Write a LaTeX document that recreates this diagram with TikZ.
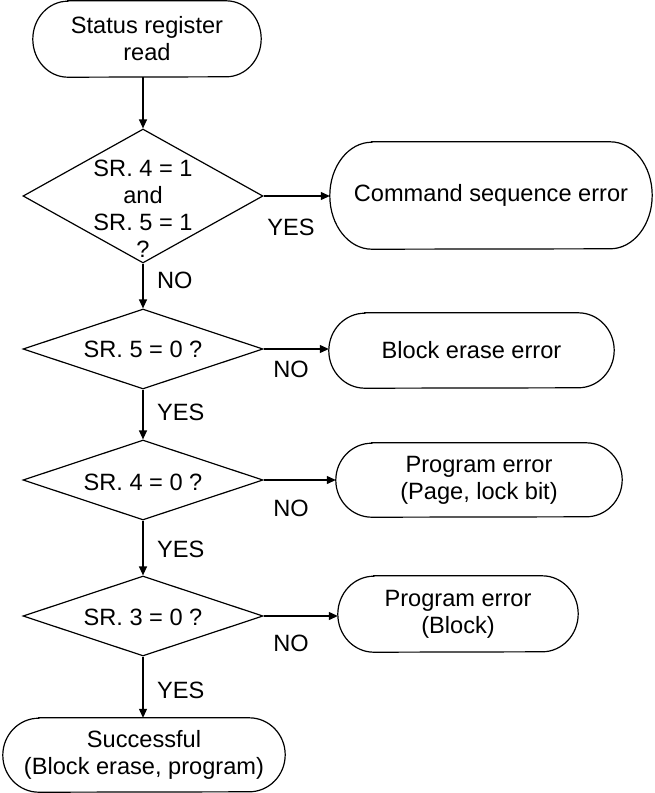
\documentclass[tikz,border=0pt]{standalone}
\usepackage{fontspec}
\setmainfont{Liberation Sans}
\usetikzlibrary{arrows.meta,shapes.geometric,calc}
\tikzset{
  line/.style={line width=1.2pt},
  arr/.style={line, -{Triangle[length=9pt,width=8pt]}},
  txt/.style={font=\fontsize{23.6}{27}\selectfont, align=center, inner sep=0pt},
  termtext/.style={txt, draw=none},
  dia/.style={diamond, draw, line width=1.2pt, inner sep=0pt, aspect=3},
  lab/.style={font=\fontsize{23.6}{27}\selectfont, inner sep=0pt}
}
\newcommand{\stadium}[7]{%
  \node[termtext, minimum width=#4pt, minimum height=#5pt] (#1) at (#2pt,#3pt) {#7};
  \draw[line] ($(#1.north west)+(#6pt,0)$) -- ($(#1.north east)+(-#6pt,0)$)
    arc[start angle=90,end angle=-90,x radius=#6pt,y radius=#5pt/2]
    -- ($(#1.south west)+(#6pt,0)$)
    arc[start angle=270,end angle=90,x radius=#6pt,y radius=#5pt/2] -- cycle;
}
\begin{document}
\begin{tikzpicture}[x=1pt,y=1pt]
\useasboundingbox (0,0) rectangle (654,-793);
% terminals
\stadium{top}{147}{-39}{228}{76}{35}{Status register\\read}
\stadium{cse}{491}{-195.5}{322}{107}{42}{Command sequence error}
\stadium{bee}{471.5}{-350.5}{285}{75}{36}{Block erase error}
\stadium{pe1}{479}{-480}{286}{74}{36}{Program error\\(Page, lock bit)}
\stadium{pe2}{458}{-614}{240}{76}{36}{Program error\\(Block)}
\stadium{ok}{144}{-755}{282}{74}{36}{Successful\\(Block erase, program)}
% decisions
\node[dia, minimum width=240pt, minimum height=134pt] (d1) at (143,-196) {};
\node[txt] (d1t) at (143,-209) {SR. 4 = 1\\and\\SR. 5 = 1\\?};
\node[dia, minimum width=240pt, minimum height=80pt] (d2) at (143,-349) {};
\node[txt] (d2t) at (143,-349) {SR. 5 = 0 ?};
\node[dia, minimum width=240pt, minimum height=80pt] (d3) at (143,-480) {};
\node[txt] (d3t) at (143,-482) {SR. 4 = 0 ?};
\node[dia, minimum width=240pt, minimum height=80pt] (d4) at (143,-616) {};
\node[txt] (d4t) at (143,-617) {SR. 3 = 0 ?};
% connectors
\draw[arr] (top.south -| d1.north) -- (d1.north);
\draw[arr] (d1.south) -- (d2.north);
\draw[arr] (d2.south) -- (d3.north);
\draw[arr] (d3.south) -- (d4.north);
\draw[arr] (d4.south) -- (ok.north -| d4.south);
\draw[arr] (d1.east) -- (d1.east -| cse.west);
\draw[arr] (d2.east) -- (d2.east -| bee.west);
\draw[arr] (d3.east) -- (d3.east -| pe1.west);
\draw[arr] (d4.east) -- (d4.east -| pe2.west);
% labels
\node[lab, anchor=west] (n1) at (157,-280) {NO};
\node[lab] (y1) at (291,-227) {YES};
\node[lab] (n2) at (291,-369) {NO};
\node[lab, anchor=west] (y2) at (157,-412) {YES};
\node[lab] (n3) at (291,-508) {NO};
\node[lab, anchor=west] (y3) at (157,-549) {YES};
\node[lab] (n4) at (291,-643) {NO};
\node[lab, anchor=west] (y4) at (157,-690) {YES};
\end{tikzpicture}
\end{document}
